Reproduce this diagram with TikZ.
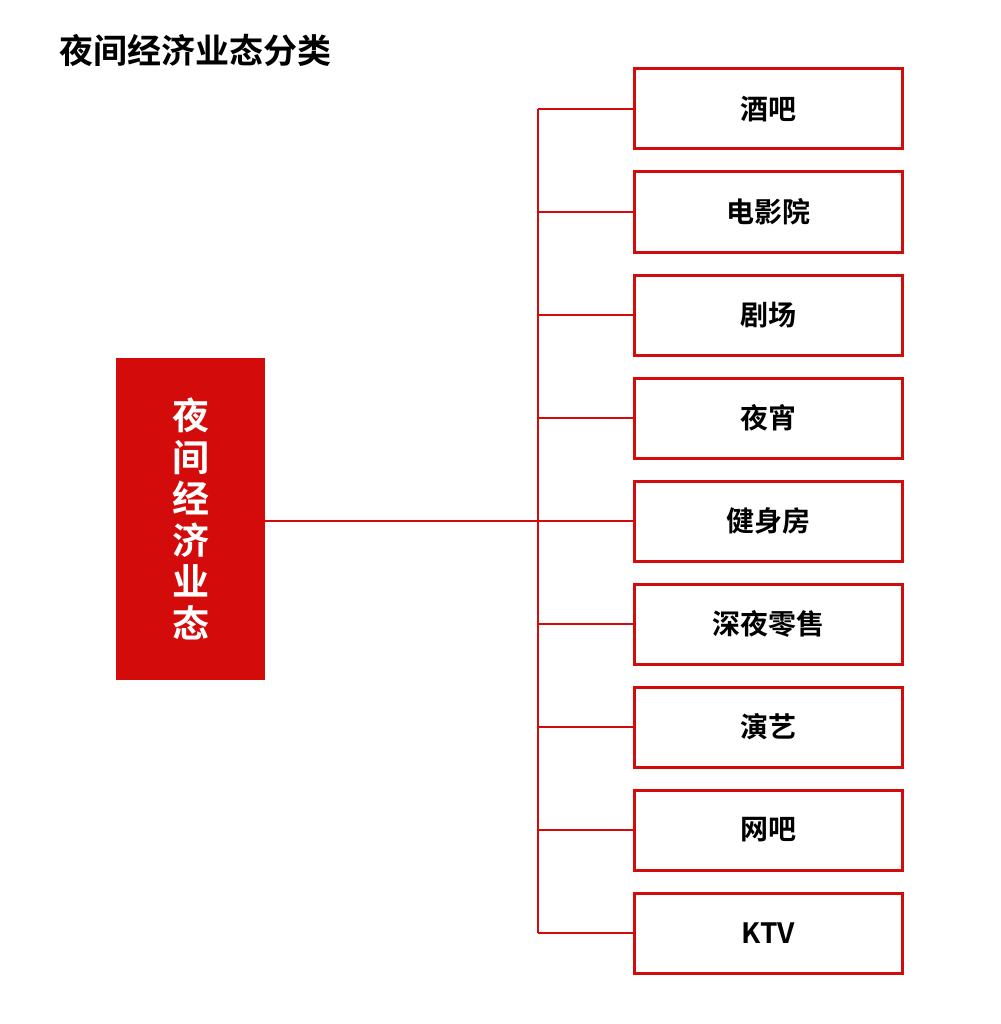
\documentclass[tikz,border=0pt]{standalone}
\usepackage{fontspec}
\setmainfont{Noto Sans CJK SC}[BoldFont={* Bold}]
\definecolor{rd}{HTML}{D40B0B}
\begin{document}
\begin{tikzpicture}[x=1pt,y=-1pt,
  leaf/.style={draw=rd,line width=3pt,minimum width=268pt,minimum height=80pt,font=\bfseries\fontsize{28}{30}\selectfont,inner sep=0pt},
  ln/.style={draw=rd,line width=2.5pt}]
\useasboundingbox (0,0) rectangle (1000,1024);
\node[anchor=west,font=\bfseries\fontsize{34}{38}\selectfont,inner sep=0pt] (title) at (59,50) {夜间经济业态分类};
\node[fill=rd,minimum width=149pt,minimum height=322pt,inner sep=0pt,text=white,font=\bfseries\fontsize{37}{41.5}\selectfont,align=center] (root) at (190.5,519) {夜\\间\\经\\济\\业\\态};
\foreach \t [count=\i] in {酒吧,电影院,剧场,夜宵,健身房,深夜零售,演艺,网吧,KTV}{
  \node[leaf] (n\i) at (768.5,{109+(\i-1)*103}) {\t};
  \coordinate (c\i) at (538,{109+(\i-1)*103});
  \draw[ln] (c\i) -- (n\i.west);
}
\draw[ln] (c1) -- (c9);
\draw[ln] (root.east |- n5) -- (n5.west);
\end{tikzpicture}
\end{document}
